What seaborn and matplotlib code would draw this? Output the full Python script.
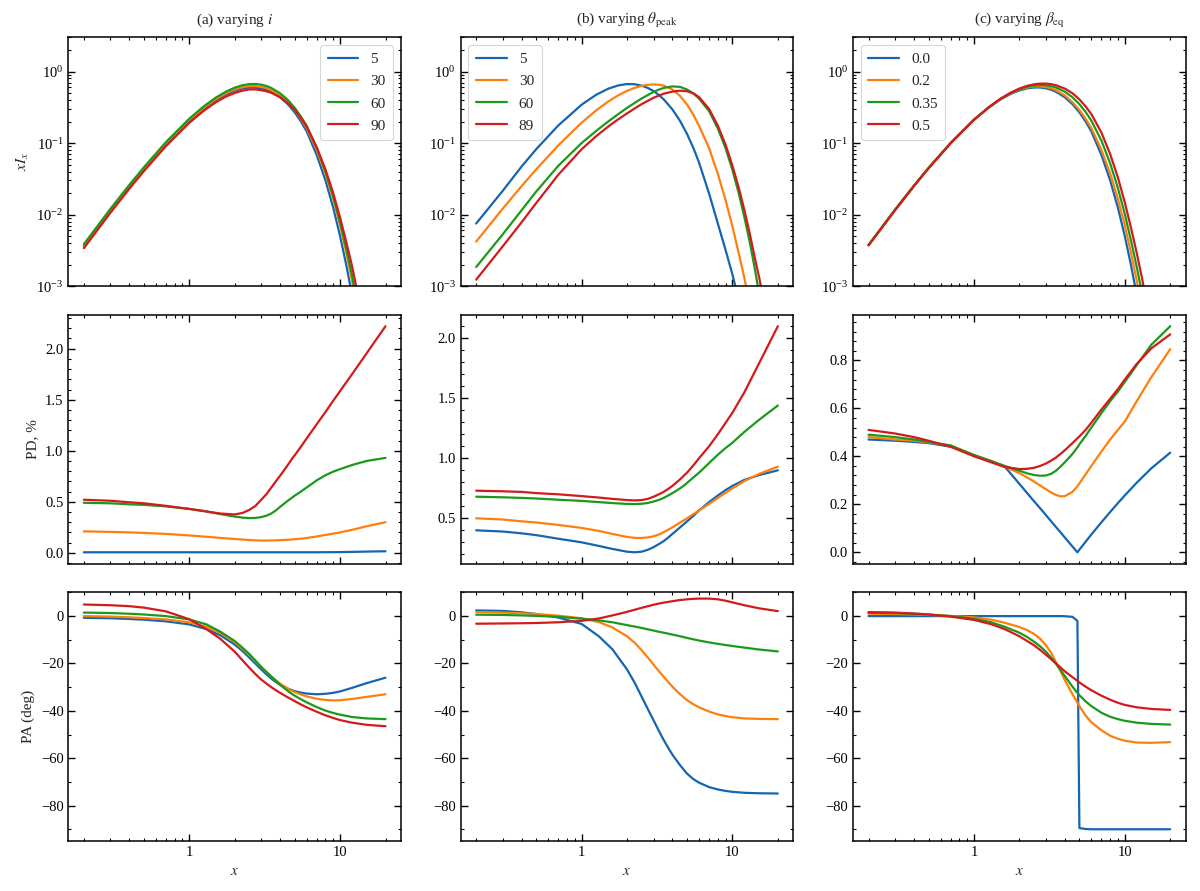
import matplotlib
matplotlib.use("Agg")
import matplotlib.pyplot as plt
from matplotlib.ticker import FuncFormatter, NullFormatter, MultipleLocator
import seaborn as sns

# x grids
x_top = [0.2, 0.3, 0.4, 0.5, 0.7, 1.0, 1.25, 1.5, 1.75, 2.0, 2.25, 2.5, 2.75, 3.0, 3.25, 3.5,
         4.0, 4.5, 5.0, 5.5, 6.0, 7.0, 8.0, 9.0, 10.0, 11.0, 12.0, 13.0, 14.0, 15.0, 16.0, 17.0]
x_pol = [0.2, 0.3, 0.4, 0.5, 0.7, 1.0, 1.3, 1.6, 2.0, 2.25, 2.5, 2.75, 3.0, 3.25, 3.5, 3.75,
         4.0, 4.5, 4.85, 5.0, 5.5, 6.0, 7.0, 8.0, 9.0, 10.0, 12.0, 15.0, 20.0]

colors = ["#1565b0", "#ff7f0e", "#1a9a1a", "#d41a1a"]

# (a) varying i
labels_a = ["5", "30", "60", "90"]
spec_a = [
    [3.64e-3, 0.0114, 0.0246, 0.0435, 0.0973, 0.206, 0.305, 0.400, 0.480, 0.540, 0.579, 0.598,
     0.598, 0.583, 0.557, 0.521, 0.437, 0.350, 0.269, 0.200, 0.146, 0.068, 0.030, 0.0125,
     5.0e-3, 1.95e-3, 7.5e-4, 2.8e-4, 1.0e-4, 3.6e-5, 1.3e-5, 4.5e-6],
    [3.7e-3, 0.0116, 0.025, 0.0443, 0.099, 0.210, 0.313, 0.412, 0.497, 0.562, 0.604, 0.625,
     0.626, 0.611, 0.585, 0.548, 0.463, 0.373, 0.29, 0.218, 0.162, 0.080, 0.0375, 0.0166,
     7.1e-3, 2.9e-3, 1.2e-3, 4.8e-4, 1.8e-4, 6.8e-5, 2.6e-5, 9.5e-6],
    [3.85e-3, 0.0120, 0.0259, 0.0458, 0.103, 0.219, 0.327, 0.432, 0.523, 0.595, 0.643, 0.667,
     0.670, 0.656, 0.627, 0.589, 0.497, 0.401, 0.311, 0.234, 0.174, 0.086, 0.040, 0.018,
     7.8e-3, 3.3e-3, 1.4e-3, 5.7e-4, 2.2e-4, 8.5e-5, 3.3e-5, 1.2e-5],
    [3.39e-3, 0.0106, 0.0229, 0.0405, 0.0905, 0.192, 0.284, 0.372, 0.446, 0.502, 0.540, 0.562,
     0.563, 0.548, 0.530, 0.505, 0.437, 0.361, 0.29, 0.224, 0.171, 0.087, 0.0426, 0.020,
     9.0e-3, 4.1e-3, 1.9e-3, 8.3e-4, 3.5e-4, 1.4e-4, 6e-5, 2.4e-5],
]
pd_a = [
    [0.005] * 23 + [0.006, 0.006, 0.007, 0.009, 0.012, 0.015],
    [0.21, 0.205, 0.20, 0.195, 0.185, 0.17, 0.157, 0.146, 0.135, 0.13, 0.125, 0.122, 0.12,
     0.12, 0.121, 0.122, 0.124, 0.128, 0.131, 0.133, 0.138, 0.145, 0.16, 0.175, 0.188, 0.20,
     0.225, 0.26, 0.30],
    [0.49, 0.485, 0.475, 0.47, 0.455, 0.43, 0.405, 0.38, 0.355, 0.345, 0.34, 0.342, 0.35,
     0.364, 0.385, 0.415, 0.45, 0.51, 0.545, 0.56, 0.60, 0.64, 0.71, 0.76, 0.795, 0.82,
     0.86, 0.90, 0.93],
    [0.52, 0.51, 0.495, 0.485, 0.46, 0.43, 0.405, 0.385, 0.376, 0.39, 0.42, 0.46, 0.52,
     0.575, 0.64, 0.70, 0.755, 0.86, 0.93, 0.955, 1.04, 1.12, 1.26, 1.38, 1.49, 1.585,
     1.75, 1.955, 2.22],
]
pa_a = [
    [-0.7, -0.9, -1.2, -1.5, -2.2, -3.5, -5.5, -8.0, -12.0, -14.7, -17.5, -20.1, -22.5, -24.6,
     -26.4, -27.8, -29.0, -30.6, -31.4, -31.7, -32.3, -32.7, -33.0, -32.8, -32.4, -31.8,
     -30.3, -28.3, -26.0],
    [0.0, -0.2, -0.5, -0.8, -1.4, -2.6, -4.5, -7.0, -11.0, -13.8, -16.5, -19.1, -21.5, -23.6,
     -25.5, -27.1, -28.5, -30.6, -31.7, -32.1, -33.1, -33.9, -34.9, -35.4, -35.6, -35.5,
     -35.0, -34.1, -33.0],
    [1.5, 1.3, 1.0, 0.7, 0.0, -1.4, -3.5, -6.5, -10.5, -13.3, -16.0, -18.8, -21.5, -23.6,
     -25.5, -27.3, -29.0, -31.6, -33.1, -33.6, -35.1, -36.4, -38.4, -39.9, -40.9, -41.6,
     -42.6, -43.2, -43.5],
    [4.9, 4.6, 4.2, 3.6, 2.0, -1.3, -5.5, -9.5, -15.0, -18.6, -21.8, -24.5, -26.8, -28.5,
     -30.0, -31.3, -32.4, -34.3, -35.4, -35.9, -37.3, -38.5, -40.4, -41.9, -43.0, -43.9,
     -45.0, -45.9, -46.5],
]

# (b) varying theta_peak
labels_b = ["5", "30", "60", "89"]
spec_b = [
    [7.5e-3, 0.0215, 0.047, 0.082, 0.176, 0.344, 0.474, 0.575, 0.640, 0.668, 0.664, 0.635,
     0.589, 0.533, 0.471, 0.409, 0.295, 0.203, 0.134, 0.086, 0.0536, 0.0197, 7.5e-3, 3.2e-3,
     1.45e-3, 6.5e-4, 2.9e-4, 1.3e-4, 5.8e-5, 2.6e-5, 1.2e-5, 5e-6],
    [4.19e-3, 0.0121, 0.025, 0.0429, 0.0927, 0.1925, 0.287, 0.380, 0.466, 0.537, 0.592, 0.631,
     0.653, 0.66, 0.654, 0.635, 0.56, 0.455, 0.345, 0.25, 0.175, 0.085, 0.037, 0.016,
     6.8e-3, 2.9e-3, 1.3e-3, 5.5e-4, 2.3e-4, 1e-4, 4e-5, 1.6e-5],
    [1.85e-3, 5.3e-3, 0.0115, 0.021, 0.048, 0.10, 0.148, 0.20, 0.254, 0.31, 0.365, 0.42,
     0.47, 0.52, 0.558, 0.59, 0.62, 0.61, 0.56, 0.495, 0.42, 0.28, 0.16, 0.085,
     0.042, 0.02, 9.2e-3, 4.2e-3, 1.85e-3, 8e-4, 3.5e-4, 1.5e-4],
    [1.23e-3, 3.6e-3, 7.8e-3, 0.0145, 0.036, 0.082, 0.125, 0.17, 0.215, 0.26, 0.305, 0.35,
     0.39, 0.43, 0.46, 0.49, 0.525, 0.54, 0.53, 0.495, 0.44, 0.30, 0.175, 0.095,
     0.048, 0.024, 0.0115, 5.5e-3, 2.6e-3, 1.35e-3, 6.8e-4, 3e-4],
]
pd_b = [
    [0.40, 0.39, 0.375, 0.36, 0.33, 0.30, 0.27, 0.245, 0.222, 0.217, 0.222, 0.238, 0.26,
     0.285, 0.31, 0.34, 0.37, 0.425, 0.46, 0.475, 0.52, 0.565, 0.635, 0.69, 0.735, 0.77,
     0.82, 0.86, 0.90],
    [0.50, 0.49, 0.475, 0.465, 0.445, 0.42, 0.395, 0.37, 0.345, 0.337, 0.336, 0.341, 0.35,
     0.365, 0.385, 0.405, 0.425, 0.465, 0.49, 0.50, 0.535, 0.565, 0.62, 0.67, 0.712, 0.75,
     0.81, 0.87, 0.93],
    [0.68, 0.675, 0.67, 0.665, 0.655, 0.645, 0.635, 0.627, 0.62, 0.619, 0.621, 0.628, 0.64,
     0.653, 0.67, 0.69, 0.71, 0.75, 0.78, 0.795, 0.84, 0.88, 0.96, 1.03, 1.085, 1.13,
     1.22, 1.32, 1.44],
    [0.73, 0.725, 0.72, 0.71, 0.70, 0.685, 0.673, 0.662, 0.652, 0.649, 0.652, 0.662, 0.68,
     0.70, 0.72, 0.745, 0.77, 0.825, 0.865, 0.88, 0.94, 1.00, 1.10, 1.20, 1.295, 1.38,
     1.55, 1.79, 2.10],
]
pa_b = [
    [2.4, 2.2, 1.6, 0.9, -0.6, -3.3, -8.5, -14.0, -22.5, -28.2, -34.0, -39.3, -44.0, -48.4,
     -52.3, -55.6, -58.5, -63.0, -65.5, -66.5, -68.8, -70.3, -72.2, -73.2, -73.8, -74.2,
     -74.6, -74.8, -74.9],
    [1.7, 1.5, 1.2, 0.9, 0.2, -0.9, -2.5, -4.8, -8.5, -11.3, -14.4, -17.5, -20.5, -23.2,
     -25.6, -27.8, -29.8, -33.0, -34.8, -35.5, -37.2, -38.5, -40.3, -41.5, -42.2, -42.7,
     -43.2, -43.4, -43.5],
    [0.6, 0.5, 0.3, 0.1, -0.3, -1.1, -1.8, -2.6, -3.8, -4.4, -5.0, -5.6, -6.1, -6.6,
     -7.0, -7.4, -7.8, -8.5, -9.0, -9.2, -9.8, -10.3, -11.1, -11.7, -12.2, -12.6,
     -13.3, -14.1, -14.9],
    [-3.2, -3.1, -3.0, -2.9, -2.6, -2.0, -1.0, 0.3, 1.8, 2.7, 3.5, 4.2, 4.8, 5.3,
     5.7, 6.0, 6.3, 6.8, 7.0, 7.1, 7.3, 7.4, 7.4, 7.1, 6.5, 5.8, 4.6, 3.3, 2.1],
]

# (c) varying beta_eq
labels_c = ["0.0", "0.2", "0.35", "0.5"]
spec_c = [
    [3.75e-3, 0.0117, 0.0253, 0.0448, 0.100, 0.212, 0.312, 0.407, 0.486, 0.544, 0.581, 0.598,
     0.598, 0.583, 0.557, 0.521, 0.437, 0.350, 0.269, 0.200, 0.146, 0.068, 0.030, 0.0125,
     5.0e-3, 1.95e-3, 7.5e-4, 2.8e-4, 1.0e-4, 3.6e-5, 1.3e-5, 4.5e-6],
    [3.75e-3, 0.0117, 0.0253, 0.0448, 0.100, 0.212, 0.315, 0.413, 0.496, 0.558, 0.598, 0.617,
     0.620, 0.607, 0.583, 0.548, 0.463, 0.373, 0.29, 0.218, 0.162, 0.080, 0.0375, 0.0166,
     7.1e-3, 2.9e-3, 1.2e-3, 4.8e-4, 1.8e-4, 6.8e-5, 2.6e-5, 9.5e-6],
    [3.75e-3, 0.0117, 0.0253, 0.0448, 0.100, 0.212, 0.315, 0.415, 0.500, 0.566, 0.612, 0.638,
     0.648, 0.642, 0.625, 0.598, 0.523, 0.436, 0.350, 0.272, 0.206, 0.108, 0.052, 0.0235,
     0.0102, 4.3e-3, 1.85e-3, 8.0e-4, 3.3e-4, 1.35e-4, 5.5e-5, 2.2e-5],
    [3.7e-3, 0.0115, 0.025, 0.0443, 0.099, 0.211, 0.315, 0.417, 0.506, 0.578, 0.630, 0.662,
     0.678, 0.678, 0.666, 0.643, 0.578, 0.496, 0.408, 0.325, 0.254, 0.140, 0.070, 0.033,
     0.0148, 6.5e-3, 2.9e-3, 1.3e-3, 5.6e-4, 2.4e-4, 1e-4, 4.2e-5],
]
pd_c = [
    [0.47, 0.465, 0.46, 0.455, 0.44, 0.405, 0.38, 0.357, 0.285, 0.247, 0.213, 0.183, 0.155,
     0.129, 0.105, 0.083, 0.062, 0.024, 0.0, 0.011, 0.044, 0.074, 0.125, 0.168, 0.205,
     0.237, 0.29, 0.35, 0.415],
    [0.48, 0.47, 0.465, 0.458, 0.445, 0.405, 0.38, 0.357, 0.33, 0.312, 0.295, 0.278, 0.263,
     0.249, 0.239, 0.233, 0.234, 0.252, 0.275, 0.287, 0.325, 0.36, 0.42, 0.47, 0.51,
     0.545, 0.63, 0.73, 0.846],
    [0.49, 0.48, 0.47, 0.46, 0.445, 0.405, 0.38, 0.36, 0.34, 0.329, 0.322, 0.319, 0.32,
     0.327, 0.34, 0.357, 0.375, 0.41, 0.437, 0.45, 0.485, 0.52, 0.58, 0.63, 0.67,
     0.71, 0.78, 0.865, 0.942],
    [0.51, 0.495, 0.48, 0.465, 0.44, 0.40, 0.375, 0.355, 0.347, 0.348, 0.352, 0.36, 0.37,
     0.382, 0.395, 0.41, 0.425, 0.455, 0.475, 0.483, 0.51, 0.54, 0.595, 0.64, 0.68,
     0.72, 0.785, 0.85, 0.908],
]
pa_c = [
    [0.0] * 16 + [-0.05, -0.3, -2.0, -89.5, -89.9] + [-90.0] * 8,
    [1.0, 0.9, 0.7, 0.5, 0.1, -0.5, -1.5, -2.8, -4.6, -5.9, -7.5, -9.6, -12.3, -15.5,
     -19.5, -23.3, -27.0, -33.0, -36.5, -38.0, -42.0, -44.8, -48.2, -50.5, -51.8, -52.6,
     -53.4, -53.5, -53.2],
    [1.4, 1.3, 1.0, 0.7, 0.0, -1.1, -2.6, -4.5, -7.0, -8.8, -10.8, -12.8, -15.0, -17.6,
     -20.2, -22.8, -25.3, -29.8, -32.4, -33.4, -36.0, -38.0, -40.8, -42.5, -43.5, -44.2,
     -45.0, -45.5, -45.8],
    [1.7, 1.5, 1.1, 0.7, -0.2, -1.6, -3.4, -5.5, -8.5, -10.5, -12.3, -14.3, -16.3, -18.2,
     -20.0, -21.7, -23.3, -25.8, -27.3, -28.0, -29.8, -31.3, -33.6, -35.3, -36.6, -37.5,
     -38.5, -39.2, -39.6],
]

titles = [r"(a) varying $i$", r"(b) varying $\theta_{\rm peak}$", r"(c) varying $\beta_{\rm eq}$"]
columns = [
    (labels_a, spec_a, pd_a, pa_a, "upper right"),
    (labels_b, spec_b, pd_b, pa_b, "upper left"),
    (labels_c, spec_c, pd_c, pa_c, "upper left"),
]
pd_minor = [0.1, 0.1, 0.04]

sns.set_theme(style="ticks", context="paper")
plt.rcParams.update({
    "font.family": ["Liberation Serif", "DejaVu Serif"],
    "mathtext.fontset": "stix",
    "font.size": 10.5,
    "axes.titlesize": 11,
    "axes.labelsize": 11,
    "xtick.labelsize": 10.5,
    "ytick.labelsize": 10.5,
    "legend.fontsize": 11,
    "axes.edgecolor": "black",
    "axes.linewidth": 1.1,
    "xtick.direction": "in",
    "ytick.direction": "in",
    "xtick.top": True,
    "ytick.right": True,
    "xtick.major.size": 5,
    "ytick.major.size": 5,
    "xtick.minor.size": 2.5,
    "ytick.minor.size": 2.5,
    "xtick.major.width": 1.0,
    "ytick.major.width": 1.0,
    "xtick.minor.width": 0.8,
    "ytick.minor.width": 0.8,
    "xtick.color": "black",
    "ytick.color": "black",
    "legend.frameon": True,
    "legend.edgecolor": "0.8",
    "legend.framealpha": 0.8,
    "legend.fancybox": True,
})

fig, axes = plt.subplots(3, 3, figsize=(12, 8.91), dpi=100)
plt.subplots_adjust(left=0.057, right=0.988, top=0.958, bottom=0.056, wspace=0.18, hspace=0.116)

for j, (labels, spec, pdv, pav, loc) in enumerate(columns):
    ax_s, ax_d, ax_a = axes[0, j], axes[1, j], axes[2, j]
    for k in range(4):
        sns.lineplot(x=x_top, y=spec[k], ax=ax_s, color=colors[k], lw=1.6,
                     label=labels[k], sort=False, estimator=None)
        sns.lineplot(x=x_pol, y=pdv[k], ax=ax_d, color=colors[k], lw=1.6,
                     sort=False, estimator=None)
        sns.lineplot(x=x_pol, y=pav[k], ax=ax_a, color=colors[k], lw=1.6,
                     sort=False, estimator=None)

    ax_s.set_yscale("log")
    ax_s.set_ylim(1e-3, 3.0)
    ax_s.set_title(titles[j], pad=10)
    ax_s.legend(loc=loc, handlelength=2.0, labelspacing=0.55, borderpad=0.5)

    ax_d.yaxis.set_major_locator(MultipleLocator(0.5 if j < 2 else 0.2))
    ax_d.yaxis.set_minor_locator(MultipleLocator(pd_minor[j]))

    ax_a.set_ylim(-95, 10)
    ax_a.yaxis.set_major_locator(MultipleLocator(20))
    ax_a.yaxis.set_minor_locator(MultipleLocator(10))
    ax_a.set_xlabel(r"$x$")

    for i, ax in enumerate((ax_s, ax_d, ax_a)):
        ax.set_xscale("log")
        ax.set_xlim(0.158, 25.3)
        ax.xaxis.set_major_formatter(FuncFormatter(lambda v, p: f"{v:g}"))
        ax.xaxis.set_minor_formatter(NullFormatter())
        ax.tick_params(which="both", direction="in", top=True, right=True)
        if i < 2:
            ax.tick_params(labelbottom=False)
            ax.set_xlabel("")
        ax.set_ylabel("")
        for sp in ax.spines.values():
            sp.set_visible(True)

axes[0, 0].set_ylabel(r"$xI_x$")
axes[1, 0].set_ylabel("PD, %")
axes[2, 0].set_ylabel("PA (deg)")

fig.savefig("out.png", dpi=100)
